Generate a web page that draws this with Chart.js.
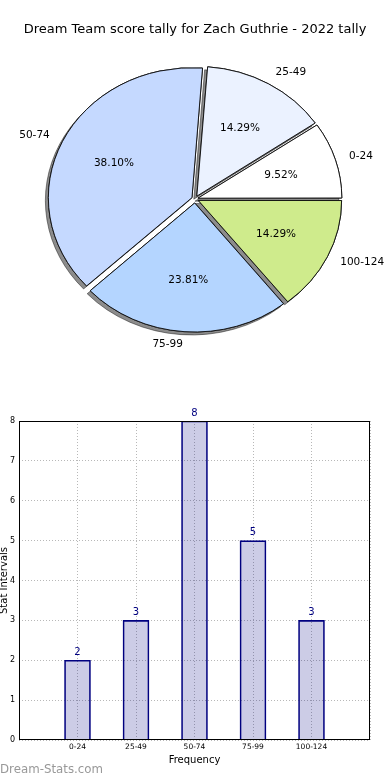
<!DOCTYPE html>
<html>
<head>
<meta charset="utf-8">
<script src="https://cdn.jsdelivr.net/npm/chart.js@4.4.1/dist/chart.umd.min.js"></script>
<style>
  html, body { margin: 0; padding: 0; background: #fff; }
  .wrap { position: relative; width: 390px; height: 780px; overflow: hidden; }
  #pie { position: absolute; left: 0; top: 0; }
  #bar { position: absolute; left: 0; top: 380px; }
</style>
</head>
<body>
<div class="wrap">
  <canvas id="pie" width="390" height="380"></canvas>
  <canvas id="bar" width="390" height="400"></canvas>
</div>
<script>
const categories = ["0-24", "25-49", "50-74", "75-99", "100-124"];
const counts = [2, 3, 8, 5, 3];
const sliceColors = ["#ffffff", "#ebf2ff", "#c5d9ff", "#b4d5ff", "#cfeb8c"];
const titleText = "Dream Team score tally for Zach Guthrie - 2022 tally";

const FONT = "'DejaVu Sans', sans-serif";
const total = counts.reduce((a, b) => a + b, 0);
const stretchX = 1.105; // the reference pie is a bit wider than tall
const explode = 4; // px each slice is pushed out

// pie goes counter-clockwise from 3 o'clock, chart.js goes clockwise, so flip the order
const pieLabels = categories.slice().reverse();
const pieValues = counts.slice().reverse();
const pieColors = sliceColors.slice().reverse();

// chart.js moves an arc by offset/4 * (2 - sin(angle)), undo that so every slice moves the same
const pieOffsets = pieValues.map((v) => {
  const circ = (v / total) * 2 * Math.PI;
  return (explode * 4) / (2 - Math.sin(Math.min(Math.PI, circ)));
});

//stretch the pie, draw a shadow pass under it, then write labels
const pieExtras = {
  id: "pieExtras",
  beforeDatasetsDraw(chart) {
    const arcs = chart.getDatasetMeta(0).data;
    const ctx = chart.ctx;
    ctx.save();
    ctx.translate(arcs[0].x, arcs[0].y);
    ctx.scale(stretchX, 1);
    ctx.translate(-arcs[0].x, -arcs[0].y);
    ctx.save();
    ctx.shadowColor = "rgba(0,0,0,0.45)";
    ctx.shadowOffsetX = -3;
    ctx.shadowOffsetY = 3;
    arcs.forEach((a) => a.draw(ctx));
    ctx.restore();
  },
  afterDatasetsDraw(chart) {
    const ctx = chart.ctx;
    ctx.restore();
    ctx.save();
    ctx.fillStyle = "#000";
    ctx.font = "10.5px " + FONT;
    ctx.textBaseline = "middle";
    chart.getDatasetMeta(0).data.forEach((arc, i) => {
      const { x, y, startAngle, endAngle, outerRadius } = arc.getProps(["x", "y", "startAngle", "endAngle", "outerRadius"], true);
      const mid = (startAngle + endAngle) / 2;
      const c = Math.cos(mid), s = Math.sin(mid);

      const dl = explode + outerRadius * 1.1;
      ctx.textAlign = c > 0 ? "left" : "right";
      ctx.fillText(pieLabels[i], x + c * dl * stretchX, y + s * dl);

      const dp = explode + outerRadius * 0.6;
      ctx.textAlign = "center";
      const pct = (pieValues[i] / total * 100).toFixed(2) + "%";
      ctx.fillText(pct, x + c * dp * stretchX, y + s * dp);
    });
    ctx.restore();
  },
};

new Chart(document.getElementById("pie"), {
  type: "pie",
  data: {
    labels: pieLabels,
    datasets: [{
      data: pieValues,
      backgroundColor: pieColors,
      borderColor: "#111",
      borderWidth: 0.9,
      offset: pieOffsets,
    }],
  },
  options: {
    responsive: false,
    animation: false,
    devicePixelRatio: 1,
    rotation: 90,
    radius: 129,
    layout: { padding: { top: 0, bottom: 20 } },
    plugins: {
      legend: { display: false },
      tooltip: { enabled: false },
      title: {
        display: true,
        text: titleText,
        color: "#000",
        font: { family: FONT, size: 13, weight: "normal", lineHeight: 1.2 },
        padding: { top: 22, bottom: 0.4 },
      },
    },
  },
  plugins: [pieExtras],
});

//bar chart: frame, value labels and watermark
const barExtras = {
  id: "barExtras",
  afterDatasetsDraw(chart) {
    const ctx = chart.ctx;
    const a = chart.chartArea;
    ctx.save();
    ctx.strokeStyle = "#000";
    ctx.lineWidth = 1;
    ctx.strokeRect(a.left + 0.5, a.top + 0.5, a.right - a.left - 1, a.bottom - a.top - 1);

    ctx.fillStyle = "#000080";
    ctx.font = "10px " + FONT;
    ctx.textAlign = "center";
    ctx.textBaseline = "bottom";
    const ds = chart.data.datasets[0].data;
    chart.getDatasetMeta(0).data.forEach((bar, i) => {
      if (ds[i] == null) return;
      ctx.fillText(String(ds[i]), bar.x, bar.y - 3);
    });
    ctx.restore();
  },
  afterDraw(chart) {
    const ctx = chart.ctx;
    ctx.save();
    ctx.fillStyle = "#999";
    ctx.font = "11.8px " + FONT;
    ctx.textAlign = "left";
    ctx.textBaseline = "middle";
    ctx.fillText("Dream-Stats.com", 0, 390);
    ctx.restore();
  },
};

new Chart(document.getElementById("bar"), {
  type: "bar",
  data: {
    labels: ["", ...categories, ""],
    datasets: [{
      data: [null, ...counts, null],
      backgroundColor: "rgba(0,0,128,0.2)",
      borderColor: "#000080",
      borderWidth: 1,
      barThickness: 26,
    }],
  },
  options: {
    responsive: false,
    animation: false,
    devicePixelRatio: 1,
    layout: { padding: { top: 41, right: 20, left: 0, bottom: 0 } },
    plugins: {
      legend: { display: false },
      tooltip: { enabled: false },
    },
    scales: {
      x: {
        offset: false,
        grid: { color: "#b8b8b8", drawTicks: false, offset: false },
        border: { display: false, dash: [1, 2] },
        ticks: { color: "#000", font: { family: FONT, size: 7.5 }, padding: 3, maxRotation: 0, autoSkip: false },
        title: {
          display: true,
          text: "Frequency",
          color: "#000",
          font: { family: FONT, size: 10, lineHeight: 1.2 },
          padding: { top: 0, bottom: 14 },
        },
        afterFit: (scale) => { scale.height = 40; },
      },
      y: {
        min: 0,
        max: 8,
        grid: { color: "#b8b8b8", drawTicks: false },
        border: { display: false, dash: [1, 2] },
        ticks: { stepSize: 1, color: "#000", font: { family: FONT, size: 8 }, padding: 4 },
        title: {
          display: true,
          text: "Stat Intervals",
          color: "#000",
          font: { family: FONT, size: 10, lineHeight: 0.8 },
          padding: 0,
        },
        afterFit: (scale) => { scale.width = 19; },
      },
    },
  },
  plugins: [barExtras],
});
</script>
</body>
</html>
